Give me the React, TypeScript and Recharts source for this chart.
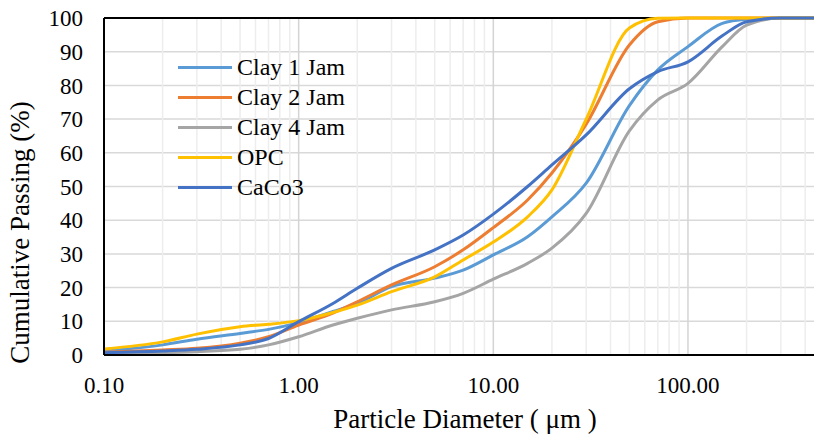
import React from "react";
import {
  CartesianGrid,
  Line,
  LineChart,
  ReferenceLine,
  XAxis,
  YAxis,
} from "recharts";

// particle diameters (µm) and cumulative passing (%) per material
const DIAMETERS = [
  0.1, 0.2, 0.3, 0.5, 0.7, 1, 1.5, 2, 3, 5, 7, 10, 15, 20, 30, 50, 70, 100,
  150, 200, 300, 500,
];
const CLAY_1 = [
  1.2, 3, 4.7, 6.4, 7.6, 9.6, 12.9, 15.3, 20.3, 22.8, 25.2, 29.7, 35.1, 41, 51,
  74, 84.6, 91.5, 98.4, 99.6, 100, 100,
];
const CLAY_2 = [
  0.8, 1.5, 2, 3.5, 5.4, 8.9, 12.4, 15.8, 20.8, 26.2, 31.2, 37.8, 46, 54, 68.5,
  92, 98.9, 100, 100, 100, 100, 100,
];
const CLAY_4 = [
  0.5, 0.7, 1, 1.7, 3, 5.4, 8.9, 10.9, 13.4, 15.8, 18.3, 22.5, 27.2, 31.7, 42,
  66.5, 75.7, 80.6, 91.5, 97.9, 100, 100,
];
const OPC = [
  1.8, 3.9, 6.2, 8.4, 9.1, 10.2, 12.6, 14.8, 18.8, 23.2, 28.2, 33.5, 41, 49, 70,
  97, 99.9, 100, 100, 100, 100, 100,
];
const CACO3 = [
  0.7, 1.2, 1.7, 3, 4.9, 9.9, 15.3, 19.8, 25.7, 31.2, 35.6, 41.8, 50, 56.4,
  65.3, 79, 84.1, 87, 94.7, 98.9, 100, 100,
];

const X_TICKS = [0.1, 1, 10, 100];
const Y_TICKS = [0, 10, 20, 30, 40, 50, 60, 70, 80, 90, 100];
const MINOR_X = [
  0.2, 0.3, 0.4, 0.5, 0.6, 0.7, 0.8, 0.9, 2, 3, 4, 5, 6, 7, 8, 9, 20, 30, 40,
  50, 60, 70, 80, 90, 200, 300, 400,
];

const SERIES = [
  { key: "clay1", name: "Clay 1 Jam", color: "#5B9BD5", values: CLAY_1 },
  { key: "clay2", name: "Clay 2 Jam", color: "#ED7D31", values: CLAY_2 },
  { key: "clay4", name: "Clay 4 Jam", color: "#A5A5A5", values: CLAY_4 },
  { key: "opc", name: "OPC", color: "#FFC000", values: OPC },
  { key: "caco3", name: "CaCo3", color: "#4472C4", values: CACO3 },
];

const data = DIAMETERS.map((d, i) => {
  const row: Record<string, number> = { d };
  SERIES.forEach((s) => (row[s.key] = s.values[i]));
  return row;
});

const FONT = "'Liberation Serif', 'Times New Roman', serif";

// legend sits inside the plot area, so it is drawn outside recharts' layout
const ChartLegend = () => (
  <div
    style={{
      position: "absolute",
      left: 178,
      top: 52,
      fontFamily: FONT,
      fontSize: 24,
      color: "#000",
    }}
  >
    {SERIES.map((s) => (
      <div
        key={s.key}
        style={{ display: "flex", alignItems: "center", height: 30 }}
      >
        <div
          style={{ width: 54, height: 3, background: s.color, marginRight: 5 }}
        />
        <span>{s.name}</span>
      </div>
    ))}
  </div>
);

export default function App() {
  return (
    <div
      style={{
        position: "absolute",
        left: 0,
        top: 0,
        width: 814,
        height: 436,
        background: "#fff",
      }}
    >
      <LineChart
        width={814}
        height={436}
        data={data}
        margin={{ top: 18, right: 0, bottom: 0, left: 0 }}
      >
        <CartesianGrid vertical={false} stroke="#d9d9d9" strokeWidth={1.5} />
        {MINOR_X.map((v) => (
          <ReferenceLine key={v} x={v} stroke="#ededed" strokeWidth={1.5} />
        ))}
        {X_TICKS.slice(1).map((v) => (
          <ReferenceLine key={v} x={v} stroke="#d4d4d4" strokeWidth={1.5} />
        ))}
        <ReferenceLine y={100} stroke="#000" strokeWidth={2} />
        <XAxis
          dataKey="d"
          type="number"
          scale="log"
          domain={[0.1, 444]}
          allowDataOverflow
          ticks={X_TICKS}
          interval={0}
          tickFormatter={(v: number) => v.toFixed(2)}
          height={81}
          axisLine={{ stroke: "#000", strokeWidth: 2 }}
          tickLine={false}
          tickMargin={16}
          tick={{ fill: "#000", fontSize: 23, fontFamily: FONT }}
          label={{
            content: ({ viewBox }: any) => (
              <text
                x={viewBox.x + viewBox.width / 2 + 6}
                y={viewBox.y + 73}
                textAnchor="middle"
                fontFamily={FONT}
                fontSize={27}
                fill="#000"
              >
                Particle Diameter ( μm )
              </text>
            ),
          }}
        />
        <YAxis
          type="number"
          domain={[0, 100]}
          ticks={Y_TICKS}
          interval={0}
          width={104}
          axisLine={{ stroke: "#000", strokeWidth: 2 }}
          tickLine={false}
          tickMargin={15}
          tick={{ fill: "#000", fontSize: 23, fontFamily: FONT }}
          label={{
            content: ({ viewBox }: any) => {
              const cx = 20;
              const cy = viewBox.y + viewBox.height / 2 + 46;
              return (
                <text
                  transform={`translate(${cx},${cy}) rotate(-90)`}
                  textAnchor="middle"
                  dominantBaseline="central"
                  fontFamily={FONT}
                  fontSize={27}
                  fill="#000"
                >
                  Cumulative Passing (%)
                </text>
              );
            },
          }}
        />
        {SERIES.map((s) => (
          <Line
            key={s.key}
            dataKey={s.key}
            name={s.name}
            type="monotone"
            stroke={s.color}
            strokeWidth={3}
            dot={false}
            activeDot={false}
            isAnimationActive={false}
          />
        ))}
      </LineChart>
      <ChartLegend />
    </div>
  );
}
